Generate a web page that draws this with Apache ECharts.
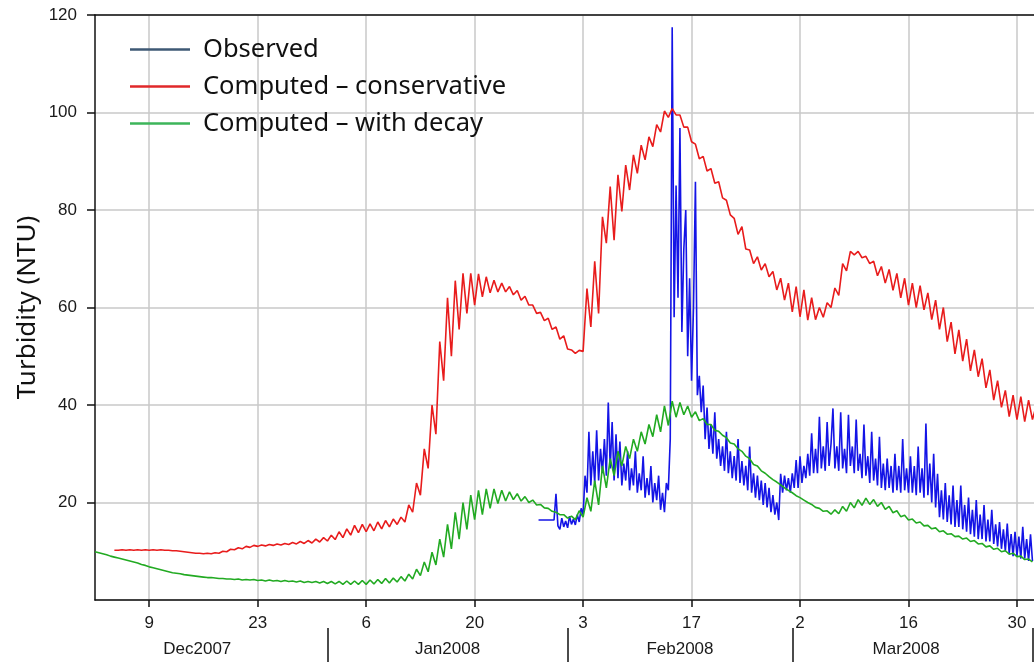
<!DOCTYPE html>
<html>
<head>
<meta charset="utf-8">
<script src="https://cdn.jsdelivr.net/npm/echarts@6/dist/echarts.min.js"></script>
<style>html,body{margin:0;padding:0;background:#fff;}#chart{width:1034px;height:662px;}</style>
</head>
<body>
<div id="chart"></div>
<script>
// x values are days counted from 1 Dec 2007 (day 0 = Dec 1)
const dayTicks = [8, 22, 36, 50, 64, 78, 92, 106, 120];
const dayTickLabels = ['9', '23', '6', '20', '3', '17', '2', '16', '30'];
const monthBounds = [31, 62, 91, 122];
const monthLabelPos = [14.2, 46.5, 76.5, 105.7];
const monthLabels = ['Dec2007', 'Jan2008', 'Feb2008', 'Mar2008'];
const yTicks = [0, 20, 40, 60, 80, 100, 120];

// Computed – conservative: first sample day 3.5, one sample every 0.5 day
const redStart = 3.5, redStep = 0.5;
const redValues = [
10.2,10.2,10.3,10.2,10.3,10.2,10.3,10.2,10.3,10.2,10.3,10.2,10.3,10.2,10.2,10.1,10.1,10.0,9.9,9.8,9.7,9.6,9.6,9.5,9.6,9.5,9.7,9.6,
10.0,9.9,10.4,10.3,10.7,10.5,11.0,10.8,11.2,11.0,11.3,11.1,11.4,11.2,11.5,11.3,11.6,11.4,11.8,11.5,12.0,11.6,12.2,11.7,12.5,11.9,12.8,12.1,
13.3,12.4,14.0,12.8,14.6,13.3,15.3,13.8,15.5,14.0,15.6,14.2,16.0,14.6,16.3,15.0,16.6,15.5,17.0,16.0,
19.5,18.0,24.0,21.5,31.0,27.0,40.0,34.0,53.0,45.0,62.0,50.0,65.5,55.5,67.0,58.8,67.0,60.5,66.9,62.2,66.3,63.0,65.6,63.2,65.0,63.2,
64.3,62.6,63.5,61.5,62.3,60.5,60.5,58.8,59.0,57.3,57.8,55.5,56.0,53.5,54.2,51.5,51.3,50.6,51.2,51.0,
63.9,56.0,69.5,58.8,78.6,73.2,84.8,73.8,87.2,79.7,89.2,84.1,91.3,87.5,93.3,90.3,95.0,93.0,97.5,96.0,100.3,99.0,100.8,99.5,
99.5,97.0,97.0,94.0,93.5,90.5,91.0,88.0,88.5,85.5,85.8,82.5,82.0,79.0,78.3,75.0,76.6,72.0,71.8,69.0,70.4,67.7,69.0,66.3,67.4,63.6,
66.0,61.5,65.0,59.1,64.3,58.1,63.6,57.4,62.0,57.5,60.0,58.0,61.0,60.0,64.0,62.5,69.0,67.5,71.5,70.8,71.5,70.2,70.5,69.0,69.5,66.5,
68.4,65.0,67.8,63.5,67.0,62.0,66.0,60.5,65.0,60.0,64.5,59.5,63.0,57.5,61.5,55.5,60.0,53.0,57.0,50.5,55.4,49.0,53.5,47.0,51.3,45.8,
49.5,43.5,47.2,41.0,45.0,39.5,43.0,37.6,42.0,37.0,41.7,36.6,41.0,37.0,40.0
];

// Computed – with decay: first sample day 1, one sample every 0.5 day
const greenStart = 1, greenStep = 0.5;
const greenValues = [
9.9,9.7,9.5,9.3,9.0,8.8,8.6,8.4,8.2,8.0,7.8,7.6,7.3,7.1,6.8,6.6,6.4,6.2,6.0,5.8,5.6,5.5,5.4,5.2,5.1,5.0,4.9,4.8,4.7,4.6,4.6,4.5,
4.4,4.4,4.3,4.3,4.2,4.3,4.1,4.2,4.1,4.2,4.0,4.1,3.9,4.1,3.9,4.0,3.8,4.0,3.8,3.9,3.7,3.9,3.6,3.8,3.6,3.8,3.5,3.8,3.4,3.8,3.3,3.8,
3.2,3.9,3.2,3.9,3.2,4.0,3.2,4.1,3.3,4.2,3.4,4.4,3.5,4.5,3.7,4.8,3.9,5.3,4.3,6.3,5.0,7.8,5.8,9.8,7.2,12.5,8.8,15.5,10.5,18.0,
12.5,20.0,14.5,21.5,16.5,22.5,17.5,22.8,18.8,22.8,19.8,22.5,20.3,22.2,20.6,21.8,20.3,21.2,20.0,20.5,19.5,19.6,18.9,18.8,18.2,18.0,
17.5,17.5,16.8,17.2,16.5,18.3,17.0,21.0,18.2,24.5,19.5,27.5,23.0,29.0,25.5,30.5,27.5,31.5,29.0,33.0,30.5,34.5,32.0,36.0,33.5,38.0,
34.5,39.8,35.8,40.8,37.5,40.5,38.0,39.8,37.5,38.6,36.8,37.2,36.0,36.0,34.8,34.6,33.8,33.3,32.2,32.0,31.0,30.5,29.5,29.0,27.8,27.5,
26.5,26.0,25.3,24.7,24.2,23.6,23.0,22.5,22.0,21.4,21.0,20.5,20.0,19.6,19.0,18.8,18.2,18.3,17.6,18.5,17.7,19.2,18.2,20.0,18.9,20.6,
19.4,20.9,19.6,20.6,19.2,20.0,18.6,19.2,17.9,18.3,17.1,17.4,16.4,16.6,15.8,16.0,15.2,15.3,14.6,14.8,14.0,14.2,13.5,13.6,13.0,13.1,
12.5,12.7,12.0,12.2,11.5,11.6,10.9,11.1,10.4,10.6,9.9,10.1,9.4,9.6,8.9,9.0,8.3,8.4,7.8
];

// Observed: first sample day 58.25, one sample every 0.25 day
const blueStart = 58.25, blueStep = 0.25;
const blueValues = [
16.4,16.4,16.4,
16.4,16.4,16.4,16.4, 16.4,16.4,21.8,15.2,
14.5,16.8,15.0,16.2, 14.8,17.2,15.5,16.6, 15.4,17.5,16.0,18.8, 17.5,25.5,22.0,34.5,
23.5,30.5,24.0,34.8, 24.5,31.0,26.0,33.0, 25.5,40.5,27.0,36.5, 24.5,34.0,25.0,32.5,
23.5,28.0,24.5,30.5, 22.5,27.0,23.5,30.5, 22.0,26.0,22.5,29.5, 21.0,25.0,21.5,27.5,
20.0,24.0,20.5,25.5, 18.5,22.0,18.0,24.0, 22.5,33.0,117.5,58.0, 85.0,62.0,96.8,55.0,
72.0,80.0,50.0,66.0, 45.0,60.0,85.8,42.0, 46.0,38.5,44.0,33.0, 39.5,31.0,36.0,30.0,
38.5,29.0,33.0,27.5, 31.5,26.5,34.5,26.0, 30.5,25.0,29.5,24.5, 33.0,24.0,28.5,23.5,
27.5,22.5,31.5,22.0, 26.0,21.0,25.5,20.5, 24.5,19.5,24.0,19.0, 23.0,18.0,21.5,17.5,
20.0,16.4,25.9,22.0, 25.5,22.5,25.0,22.0, 26.0,23.0,28.7,23.0, 29.5,24.0,27.5,25.0,
30.0,25.5,34.2,26.0, 31.0,26.0,37.6,27.0, 31.5,26.5,36.5,27.5, 32.0,39.3,27.0,31.5,
26.5,38.5,27.0,31.0, 26.0,38.0,27.5,31.5, 26.0,37.0,26.5,30.0, 25.0,36.0,25.5,29.5,
24.0,34.5,24.5,29.0, 23.5,33.5,23.0,28.0, 22.5,29.0,23.0,27.5, 22.0,30.0,22.5,27.5,
22.0,33.0,22.5,27.0, 22.0,29.5,22.0,27.5, 21.5,31.5,22.0,27.0, 21.0,36.2,21.5,28.0,
20.0,30.0,19.0,25.9, 17.0,22.5,16.5,24.0, 16.0,21.5,15.5,23.5, 15.0,20.5,15.0,23.5,
14.5,19.5,14.0,21.0, 13.5,18.5,13.0,20.5, 12.5,17.5,12.5,19.5, 12.0,16.5,12.0,18.5,
11.5,15.5,11.0,16.0, 10.5,14.5,10.0,15.7, 9.5,13.5,9.0,14.0, 9.0,13.0,8.5,15.0,
8.5,12.5,8.0,13.5, 8.0
];

function toPairs(start, step, values) {
  return values.map((v, i) => [start + i * step, v]);
}

const numFont = '"Liberation Sans", Arial, sans-serif';
const textFont = '"Noto Sans", "Open Sans", sans-serif';
const X_MIN = 1, X_MAX = 122.2;
const chart = echarts.init(document.getElementById('chart'), null, {renderer: 'canvas'});
chart.setOption({
  animation: false,
  backgroundColor: '#ffffff',
  grid: [
    {left: 95, right: -2, top: 15, bottom: 62, containLabel: false},
    {left: 95, right: -2, top: 627, height: 1, containLabel: false}
  ],
  legend: {
    orient: 'vertical', left: 125, top: 29, itemGap: 6,
    icon: 'rect', itemWidth: 60, itemHeight: 2.5,
    textStyle: {fontFamily: textFont, fontSize: 25.5, color: '#111', lineHeight: 31, padding: [0, 0, 0, 8]},
    data: [
      {name: 'Observed', itemStyle: {color: '#3e5874'}},
      {name: 'Computed – conservative', itemStyle: {color: '#e0282a'}},
      {name: 'Computed – with decay', itemStyle: {color: '#3cb55a'}}
    ]
  },
  xAxis: [
    {
      gridIndex: 0, type: 'value', min: X_MIN, max: X_MAX, position: 'bottom',
      axisLine: {show: true, onZero: false, lineStyle: {color: '#111', width: 1.5}},
      axisTick: {show: true, customValues: dayTicks, length: 7, lineStyle: {color: '#111', width: 1.5}},
      axisLabel: {customValues: dayTicks, margin: 15, fontFamily: numFont, fontSize: 17, color: '#1a1a1a',
        formatter: v => { const i = dayTicks.indexOf(v); return i >= 0 ? dayTickLabels[i] : ''; }},
      splitLine: {show: true, lineStyle: {color: '#c8c8c8', width: 1.5}}
    },
    {
      gridIndex: 0, type: 'value', min: X_MIN, max: X_MAX, position: 'top',
      axisLine: {show: true, onZero: false, lineStyle: {color: '#111', width: 1.5}},
      axisTick: {show: false}, axisLabel: {show: false}, splitLine: {show: false}
    },
    {
      gridIndex: 1, type: 'value', min: X_MIN, max: X_MAX, position: 'bottom',
      axisLine: {show: false, onZero: false},
      axisTick: {show: true, customValues: monthBounds, length: 34, lineStyle: {color: '#111', width: 1.5}},
      axisLabel: {customValues: monthLabelPos, margin: 13, fontFamily: numFont, fontSize: 17, color: '#1a1a1a',
        formatter: v => { const i = monthLabelPos.indexOf(v); return i >= 0 ? monthLabels[i] : ''; }},
      splitLine: {show: false}
    }
  ],
  yAxis: [
    {
      gridIndex: 0, type: 'value', min: 0, max: 120, interval: 20,
      name: 'Turbidity (NTU)', nameLocation: 'middle', nameGap: 54, nameRotate: 90, nameMoveOverlap: false,
      nameTextStyle: {fontFamily: textFont, fontSize: 26, color: '#111'},
      axisLine: {show: true, lineStyle: {color: '#111', width: 1.5}},
      axisTick: {show: true, length: 8, lineStyle: {color: '#111', width: 1.5}},
      axisLabel: {showMinLabel: false, margin: 18, fontFamily: numFont, fontSize: 17, color: '#1a1a1a'},
      splitLine: {show: true, lineStyle: {color: '#c8c8c8', width: 1.5}}
    },
    {
      gridIndex: 1, type: 'value', min: 0, max: 1,
      axisLine: {show: false}, axisTick: {show: false}, axisLabel: {show: false}, splitLine: {show: false}
    }
  ],
  series: [
    {name: 'Observed', type: 'line', xAxisIndex: 0, yAxisIndex: 0, showSymbol: false, symbol: 'none',
     lineStyle: {color: '#1414e6', width: 1.6}, itemStyle: {color: '#3e5874'}, data: toPairs(blueStart, blueStep, blueValues)},
    {name: 'Computed – conservative', type: 'line', xAxisIndex: 0, yAxisIndex: 0, showSymbol: false, symbol: 'none',
     lineStyle: {color: '#e81c1c', width: 1.6}, itemStyle: {color: '#e0282a'}, data: toPairs(redStart, redStep, redValues)},
    {name: 'Computed – with decay', type: 'line', xAxisIndex: 0, yAxisIndex: 0, showSymbol: false, symbol: 'none',
     lineStyle: {color: '#22aa22', width: 1.6}, itemStyle: {color: '#3cb55a'}, data: toPairs(greenStart, greenStep, greenValues)}
  ]
});
</script>
</body>
</html>
